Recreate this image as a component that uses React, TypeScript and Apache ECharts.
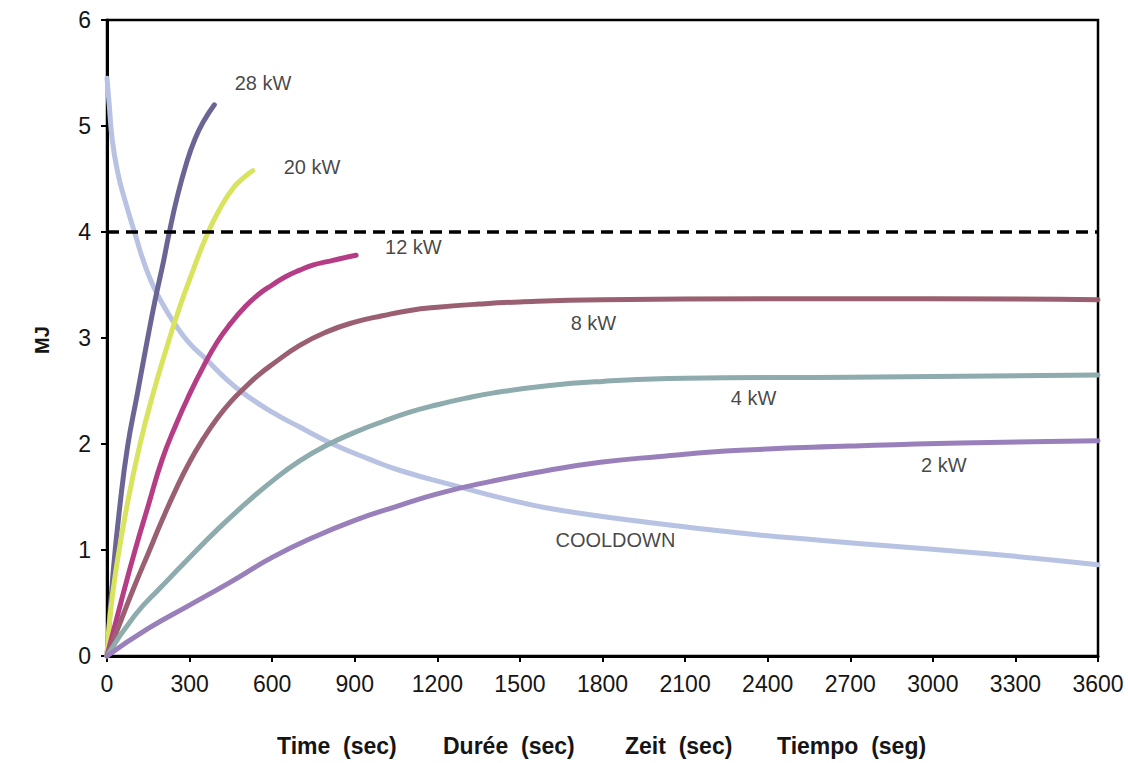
import React, { useEffect, useRef } from "react";
import * as echarts from "echarts";

const FONT = "'Liberation Sans', Arial, Helvetica, sans-serif";

const xTicks = [0, 300, 600, 900, 1200, 1500, 1800, 2100, 2400, 2700, 3000, 3300, 3600];
const yTicks = [0, 1, 2, 3, 4, 5, 6];

const kw28: [number, number][] = [
  [0, 0], [22, 0.78], [47, 1.42], [75, 1.98], [110, 2.47], [145, 2.96], [175, 3.36],
  [205, 3.72], [225, 3.98], [255, 4.33], [290, 4.66], [320, 4.88], [350, 5.04], [390, 5.2],
];
const kw20: [number, number][] = [
  [0, 0], [12, 0.4], [35, 0.85], [72, 1.41], [120, 2.0], [167, 2.47], [218, 2.92],
  [265, 3.3], [310, 3.62], [364, 3.98], [410, 4.22], [460, 4.42], [500, 4.52], [530, 4.58],
];
const kw12: [number, number][] = [
  [0, 0], [50, 0.5], [100, 0.98], [150, 1.42], [200, 1.85], [250, 2.18], [300, 2.47],
  [350, 2.73], [400, 2.96], [450, 3.14], [500, 3.29], [550, 3.41], [600, 3.5], [650, 3.58],
  [700, 3.64], [750, 3.69], [800, 3.72], [850, 3.75], [905, 3.78],
];
const kw8: [number, number][] = [
  [0, 0], [50, 0.33], [100, 0.66], [150, 0.97], [200, 1.28], [250, 1.57], [300, 1.83],
  [350, 2.05], [400, 2.24], [450, 2.4], [500, 2.53], [550, 2.65], [600, 2.75], [700, 2.93],
  [800, 3.06], [900, 3.15], [1000, 3.21], [1100, 3.26], [1200, 3.29], [1350, 3.32],
  [1500, 3.34], [1800, 3.36], [2400, 3.37], [3000, 3.37], [3600, 3.36],
];
const kw4: [number, number][] = [
  [0, 0], [100, 0.38], [200, 0.66], [300, 0.93], [400, 1.19], [500, 1.43], [600, 1.65],
  [700, 1.84], [800, 1.99], [900, 2.11], [1000, 2.21], [1100, 2.3], [1200, 2.37],
  [1300, 2.43], [1400, 2.48], [1600, 2.55], [1800, 2.59], [2100, 2.62], [2700, 2.63],
  [3600, 2.65],
];
const kw2: [number, number][] = [
  [0, 0], [150, 0.26], [300, 0.48], [450, 0.7], [600, 0.93], [750, 1.12], [900, 1.28],
  [1050, 1.41], [1200, 1.53], [1400, 1.65], [1600, 1.75], [1800, 1.83], [2000, 1.88],
  [2300, 1.94], [2700, 1.98], [3100, 2.01], [3600, 2.03],
];
const cooldown: [number, number][] = [
  [0, 5.45], [8, 5.2], [20, 4.85], [40, 4.55], [65, 4.3], [95, 4.04], [150, 3.6], [200, 3.33],
  [250, 3.12], [300, 2.95], [364, 2.79], [430, 2.62], [495, 2.48], [600, 2.3], [700, 2.16],
  [820, 2.0], [950, 1.86], [1065, 1.75], [1273, 1.6], [1450, 1.48], [1636, 1.38],
  [2000, 1.25], [2300, 1.16], [2600, 1.09], [2880, 1.03], [3300, 0.94], [3600, 0.86],
];
const limitLine: [number, number][] = [[0, 4], [3600, 4]];

const seriesNames = ["28 kW", "20 kW", "12 kW", "8 kW", "4 kW", "2 kW", "COOLDOWN"];
const seriesData = [kw28, kw20, kw12, kw8, kw4, kw2, cooldown];
const seriesColors = ["#6b6594", "#d8e35e", "#b53d85", "#9a6072", "#8eabad", "#9a80bb", "#b8c2e2"];

const labelNames = ["28 kW", "20 kW", "12 kW", "8 kW", "4 kW", "2 kW", "COOLDOWN"];
const labelPos: [number, number][] = [
  [567, 5.41], [745, 4.61], [1113, 3.86], [1767, 3.14], [2349, 2.43], [3040, 1.8], [1847, 1.09],
];

const titleParts = ["Time  (sec)", "Durée  (sec)", "Zeit  (sec)", "Tiempo  (seg)"];
const titleX = [277, 443, 625, 777];

export default function App() {
  const ref = useRef<HTMLDivElement>(null);
  useEffect(() => {
    if (!ref.current) return;
    const chart = echarts.init(ref.current, undefined, { renderer: "svg" });
    const lines = seriesData.map((d, i) => ({
      name: seriesNames[i],
      type: "line",
      data: d,
      smooth: 0.5,
      showSymbol: false,
      symbol: "none",
      z: i === 6 ? 2 : 3,
      lineStyle: { color: seriesColors[i], width: 5, cap: "round" },
    }));
    const option: any = {
      animation: false,
      backgroundColor: "#ffffff",
      grid: {
        left: 107, right: 30, top: 20, bottom: 107,
        show: true, borderColor: "#000", borderWidth: 2.5, backgroundColor: "transparent",
      },
      xAxis: {
        type: "value", min: 0, max: 3600, interval: 300,
        axisLine: { show: true, onZero: false, lineStyle: { color: "#000", width: 3 } },
        axisTick: { show: true, length: 6, lineStyle: { color: "#000", width: 2 } },
        splitLine: { show: false },
        axisLabel: {
          color: "#151515", fontSize: 23, fontFamily: FONT, margin: 16,
          formatter: (v: number) => (xTicks.includes(v) ? String(v) : ""),
        },
      },
      yAxis: {
        type: "value", min: 0, max: 6, interval: 1,
        axisLine: { show: true, onZero: false, lineStyle: { color: "#000", width: 3 } },
        axisTick: { show: true, length: 6, lineStyle: { color: "#000", width: 2 } },
        splitLine: { show: false },
        axisLabel: {
          color: "#151515", fontSize: 23, fontFamily: FONT, margin: 16,
          formatter: (v: number) => (yTicks.includes(v) ? String(v) : ""),
        },
      },
      graphic: [
        {
          type: "text", x: 42, y: 340, rotation: Math.PI / 2,
          style: {
            text: "MJ", fontSize: 20, fontWeight: "bold", fontFamily: FONT, fill: "#151515",
            textAlign: "center", textVerticalAlign: "middle",
          },
        },
        ...titleParts.map((t, i) => ({
          type: "text", x: titleX[i], y: 746,
          style: {
            text: t, fontSize: 23, fontWeight: "bold", fontFamily: FONT, fill: "#151515",
            textAlign: "left", textVerticalAlign: "middle",
          },
        })),
      ],
      series: [
        ...lines,
        {
          name: "limit",
          type: "line",
          data: limitLine,
          showSymbol: false,
          symbol: "none",
          z: 4,
          lineStyle: { color: "#000", width: 3.5, type: [12, 7] },
        },
        {
          name: "labels",
          type: "scatter",
          symbolSize: 1,
          itemStyle: { color: "transparent" },
          data: labelPos.map((p, i) => ({ value: p, name: labelNames[i] })),
          label: {
            show: true, position: "inside", formatter: (p: any) => p.name,
            color: "#151515", fontSize: 20, fontFamily: FONT,
          },
          z: 5,
        },
      ],
    };
    chart.setOption(option);
    return () => chart.dispose();
  }, []);
  return (
    <div
      ref={ref}
      style={{ position: "fixed", left: 0, top: 0, width: 1128, height: 763, background: "#fff" }}
    />
  );
}
